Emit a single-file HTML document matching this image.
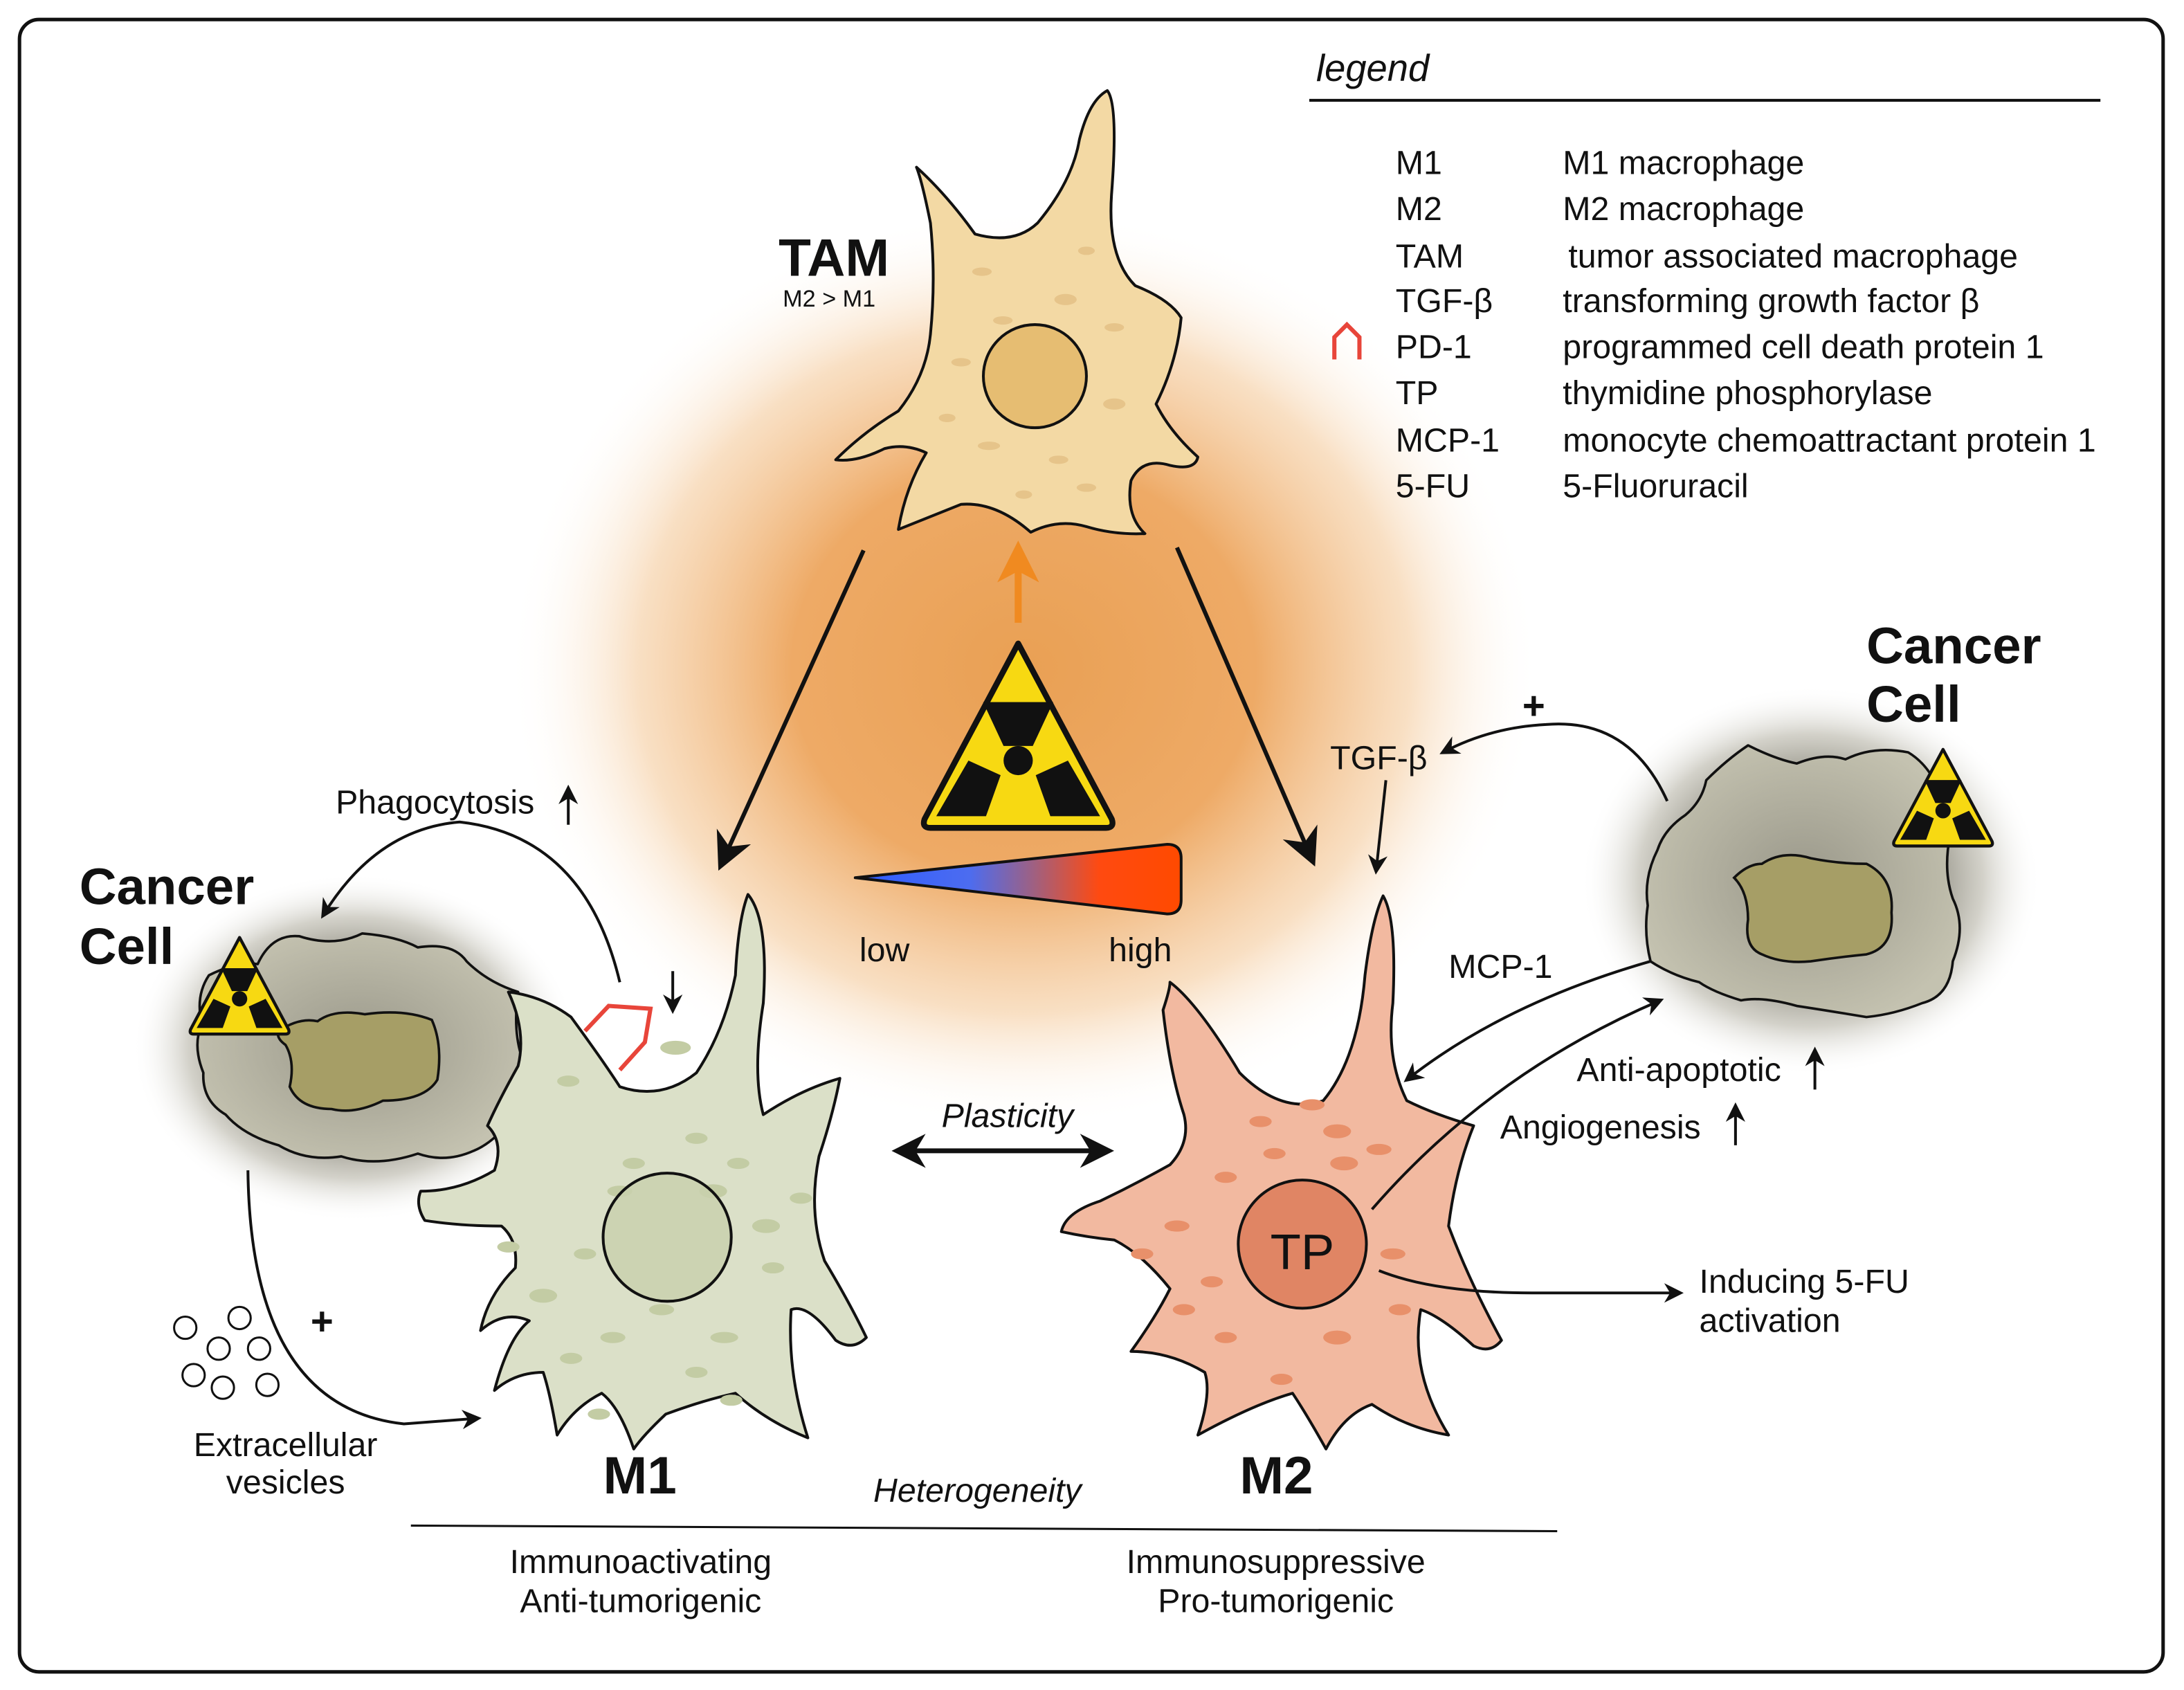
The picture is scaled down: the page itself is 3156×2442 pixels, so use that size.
<!DOCTYPE html>
<html><head><meta charset="utf-8"><style>
html,body{margin:0;padding:0;background:#fff}
svg{display:block}
text{font-family:"Liberation Sans",sans-serif;fill:#111}
</style></head><body>
<svg width="3156" height="2442" viewBox="0 0 1568 1213" preserveAspectRatio="none" xmlns="http://www.w3.org/2000/svg">
<defs>
<radialGradient id="glow" cx="0.5" cy="0.5" r="0.5">
<stop offset="0" stop-color="#e9a054"/><stop offset="0.45" stop-color="#eeaa66"/><stop offset="0.75" stop-color="#f6d2aa" stop-opacity="0.7"/><stop offset="1" stop-color="#fff" stop-opacity="0"/>
</radialGradient>
<radialGradient id="cshade" cx="0.5" cy="0.5" r="0.5">
<stop offset="0" stop-color="#6e6c62"/><stop offset="0.5" stop-color="#8e8c80"/><stop offset="0.75" stop-color="#c8c6bc" stop-opacity="0.8"/><stop offset="1" stop-color="#fff" stop-opacity="0"/>
</radialGradient>
<radialGradient id="cfill" cx="0.5" cy="0.5" r="0.55">
<stop offset="0" stop-color="#9a988a"/><stop offset="1" stop-color="#c4c2b0"/>
</radialGradient>
<linearGradient id="wedge" x1="0" x2="1" y1="0" y2="0">
<stop offset="0" stop-color="#2e5bff"/><stop offset="0.35" stop-color="#4c6cf0"/><stop offset="0.55" stop-color="#a06080"/><stop offset="0.75" stop-color="#ff4a10"/><stop offset="1" stop-color="#ff4a00"/>
</linearGradient>
<marker id="ah" viewBox="0 0 10 10" refX="8" refY="5" markerWidth="7" markerHeight="7" orient="auto-start-reverse"><path d="M0,0 L10,5 L0,10 L3,5 z" fill="#111"/></marker>
<marker id="ahs" viewBox="0 0 10 10" refX="8" refY="5" markerWidth="9" markerHeight="9" orient="auto-start-reverse"><path d="M0,0 L10,5 L0,10 L3,5 z" fill="#111"/></marker>
<g id="rad">
<path d="M0,-62 L64,58 Q66,64 60,64 L-60,64 Q-66,64 -64,58 Z" fill="#f7d912" stroke="#111" stroke-width="4" stroke-linejoin="round"/>
<circle cx="0" cy="18" r="10" fill="#111"/>
<path d="M-24,-22 L24,-22 L10,8 L-10,8 Z" fill="#111"/>
<path d="M-56,56 L-34,18 L-12,28 L-22,56 Z" fill="#111"/>
<path d="M56,56 L34,18 L12,28 L22,56 Z" fill="#111"/>
</g>
</defs>

<rect x="14" y="14" width="1539" height="1186" rx="14" fill="#fff" stroke="#111" stroke-width="2.5"/>

<ellipse cx="735" cy="480" rx="370" ry="330" fill="url(#glow)"/>

<!-- legend -->
<text x="945" y="58" font-size="27" font-style="italic">legend</text>
<line x1="940" y1="72" x2="1508" y2="72" stroke="#111" stroke-width="2"/>
<g font-size="24">
<text x="1002" y="125">M1</text><text x="1122" y="125">M1 macrophage</text>
<text x="1002" y="158">M2</text><text x="1122" y="158">M2 macrophage</text>
<text x="1002" y="192">TAM</text><text x="1126" y="192">tumor associated macrophage</text>
<text x="1002" y="224">TGF-β</text><text x="1122" y="224">transforming growth factor β</text>
<text x="1002" y="257">PD-1</text><text x="1122" y="257">programmed cell death protein 1</text>
<text x="1002" y="290">TP</text><text x="1122" y="290">thymidine phosphorylase</text>
<text x="1002" y="324">MCP-1</text><text x="1122" y="324">monocyte chemoattractant protein 1</text>
<text x="1002" y="357">5-FU</text><text x="1122" y="357">5-Fluoruracil</text>
</g>
<path d="M958,258 L958,242 L967,233 L976,242 L976,258" fill="none" stroke="#e8453a" stroke-width="3"/>

<!-- TAM cell -->
<path d="M795,65 Q803,75 798,140 Q795,185 815,205 Q840,215 848,228 Q845,260 830,290 Q840,310 860,328 Q858,338 840,334 Q820,328 812,345 Q808,370 822,383 Q800,384 780,378 Q760,372 740,382 Q715,360 690,362 Q665,372 645,380 Q650,350 665,325 Q650,318 635,322 Q615,332 600,330 Q620,310 645,295 Q665,270 668,240 Q672,200 668,160 Q662,130 658,120 Q680,140 700,168 Q728,176 745,160 Q770,130 775,100 Q782,72 795,65 Z" fill="#f3d9a4" stroke="#111" stroke-width="2" stroke-linejoin="round"/>
<g fill="#e6c48a"><ellipse cx="705" cy="195" rx="7" ry="3"/><ellipse cx="765" cy="215" rx="8" ry="4"/><ellipse cx="800" cy="235" rx="7" ry="3"/><ellipse cx="690" cy="260" rx="7" ry="3"/><ellipse cx="800" cy="290" rx="8" ry="4"/><ellipse cx="710" cy="320" rx="8" ry="3"/><ellipse cx="760" cy="330" rx="7" ry="3"/><ellipse cx="680" cy="300" rx="6" ry="3"/><ellipse cx="735" cy="355" rx="6" ry="3"/><ellipse cx="780" cy="180" rx="6" ry="3"/><ellipse cx="720" cy="230" rx="7" ry="3"/><ellipse cx="780" cy="350" rx="7" ry="3"/></g>
<circle cx="743" cy="270" r="37" fill="#e6bd72" stroke="#111" stroke-width="2"/>
<text x="559" y="198" font-size="38" font-weight="bold">TAM</text>
<text x="562" y="220" font-size="17">M2 &gt; M1</text>

<!-- main arrows -->
<line x1="620" y1="395" x2="518" y2="620" stroke="#111" stroke-width="3" marker-end="url(#ahs)"/>
<line x1="845" y1="393" x2="942" y2="617" stroke="#111" stroke-width="3" marker-end="url(#ahs)"/>
<line x1="731" y1="447" x2="731" y2="405" stroke="#f08a20" stroke-width="5"/>
<path d="M716,418 L731,388 L746,418 L731,410 Z" fill="#f08a20"/>

<use href="#rad" transform="translate(731,527) scale(1.05)"/>

<path d="M614,630 L838,606 Q848,606 848,616 L848,646 Q848,656 838,656 Z" fill="url(#wedge)" stroke="#111" stroke-width="2" stroke-linejoin="round"/>
<text x="617" y="690" font-size="24">low</text>
<text x="796" y="690" font-size="24">high</text>

<!-- left cancer cell -->
<ellipse cx="255" cy="752" rx="160" ry="125" fill="url(#cshade)"/>
<path d="M150,700 Q170,690 185,692 Q195,670 215,672 Q240,680 260,670 Q285,672 300,680 Q325,676 335,690 Q350,705 372,712 Q368,740 375,760 Q365,785 370,800 Q355,820 340,826 Q320,835 300,828 Q270,838 245,830 Q220,834 200,822 Q175,815 162,800 Q145,790 146,770 Q138,750 145,735 Q140,715 150,700 Z" fill="url(#cfill)" stroke="#111" stroke-width="1.8" stroke-linejoin="round"/>
<path d="M200,740 Q215,730 228,733 Q240,724 262,728 Q290,724 310,732 Q318,750 314,775 Q305,790 275,790 Q255,800 238,796 Q215,796 208,780 Q212,762 205,750 Q198,745 200,740 Z" fill="#a69e66" stroke="#111" stroke-width="1.8"/>
<use href="#rad" transform="translate(172,707) scale(0.55)"/>
<text x="57" y="649" font-size="37" font-weight="bold">Cancer</text>
<text x="57" y="692" font-size="37" font-weight="bold">Cell</text>

<!-- right cancer cell -->
<ellipse cx="1300" cy="632" rx="165" ry="140" fill="url(#cshade)"/>
<path d="M1210,585 Q1222,575 1225,560 Q1240,545 1255,535 Q1275,545 1290,548 Q1310,540 1325,545 Q1345,535 1370,540 Q1395,555 1400,600 Q1395,625 1402,645 Q1412,665 1402,690 Q1400,715 1380,720 Q1360,728 1340,730 Q1310,725 1290,722 Q1265,715 1250,718 Q1230,712 1220,705 Q1200,700 1185,690 Q1180,670 1183,650 Q1180,630 1190,610 Q1195,595 1210,585 Z" fill="url(#cfill)" stroke="#111" stroke-width="1.8" stroke-linejoin="round"/>
<path d="M1245,630 Q1255,620 1265,620 Q1280,610 1300,616 Q1320,620 1340,620 Q1360,630 1358,655 Q1360,680 1340,685 Q1320,687 1300,690 Q1280,692 1265,685 Q1252,680 1255,660 Q1255,640 1245,630 Z" fill="#a69e66" stroke="#111" stroke-width="1.8"/>
<use href="#rad" transform="translate(1395,572) scale(0.55)"/>
<text x="1340" y="476" font-size="37" font-weight="bold">Cancer</text>
<text x="1340" y="518" font-size="37" font-weight="bold">Cell</text>

<!-- M1 cell -->
<path d="M537,642 Q552,660 548,720 Q540,770 548,800 Q575,782 603,774 Q598,800 588,830 Q580,870 592,905 Q610,935 622,960 Q612,970 600,962 Q580,935 568,940 Q565,985 580,1032 Q550,1020 528,1000 Q505,1005 478,1015 Q462,1030 455,1040 Q445,1010 432,1000 Q412,1010 400,1030 Q395,1000 390,985 Q370,985 355,998 Q365,960 380,948 Q362,940 345,955 Q350,930 370,910 Q372,890 360,880 Q330,880 305,876 Q298,865 302,855 Q330,855 355,840 Q362,820 350,808 Q358,790 372,765 Q378,740 365,712 Q390,715 410,730 Q432,760 445,780 Q475,790 500,770 Q520,740 528,700 Q530,660 537,642 Z" fill="#dbe0c8" stroke="#111" stroke-width="2" stroke-linejoin="round"/>
<g fill="#c3cca4"><ellipse cx="485" cy="752" rx="11" ry="5"/><ellipse cx="408" cy="776" rx="8" ry="4"/><ellipse cx="500" cy="817" rx="8" ry="4"/><ellipse cx="445" cy="855" rx="9" ry="4"/><ellipse cx="512" cy="855" rx="10" ry="5"/><ellipse cx="550" cy="880" rx="10" ry="5"/><ellipse cx="390" cy="930" rx="10" ry="5"/><ellipse cx="440" cy="960" rx="9" ry="4"/><ellipse cx="520" cy="960" rx="10" ry="4"/><ellipse cx="475" cy="940" rx="9" ry="4"/><ellipse cx="575" cy="860" rx="8" ry="4"/><ellipse cx="555" cy="910" rx="8" ry="4"/><ellipse cx="430" cy="1015" rx="8" ry="4"/><ellipse cx="525" cy="1005" rx="8" ry="4"/><ellipse cx="365" cy="895" rx="8" ry="4"/><ellipse cx="455" cy="835" rx="8" ry="4"/><ellipse cx="530" cy="835" rx="8" ry="4"/><ellipse cx="420" cy="900" rx="8" ry="4"/><ellipse cx="410" cy="975" rx="8" ry="4"/><ellipse cx="500" cy="985" rx="8" ry="4"/></g>
<circle cx="479" cy="888" r="46" fill="#c9d0ae" fill-opacity="0.85" stroke="#111" stroke-width="2"/>
<path d="M420,740 L437,722 L467,724 L463,748 L445,768" fill="none" stroke="#e8453a" stroke-width="3"/>
<text x="433" y="1072" font-size="38" font-weight="bold">M1</text>

<!-- M2 cell -->
<path d="M993,643 Q1003,660 1000,720 Q995,760 1010,790 Q1030,800 1058,808 Q1045,840 1040,880 Q1055,920 1078,962 Q1070,972 1058,966 Q1035,945 1020,940 Q1012,985 1040,1030 Q1010,1025 985,1008 Q965,1015 952,1040 Q938,1015 928,1000 Q900,1008 860,1030 Q870,1000 865,985 Q840,970 812,970 Q830,945 840,925 Q820,900 800,890 Q780,888 762,884 Q765,870 790,862 Q815,850 840,836 Q855,820 850,800 Q840,770 835,725 Q840,710 840,705 Q860,720 890,770 Q920,800 950,790 Q975,760 980,700 Q985,660 993,643 Z" fill="#f2b9a0" stroke="#111" stroke-width="2" stroke-linejoin="round"/>
<g fill="#e8906a"><ellipse cx="942" cy="793" rx="9" ry="4"/><ellipse cx="960" cy="812" rx="10" ry="5"/><ellipse cx="915" cy="828" rx="8" ry="4"/><ellipse cx="990" cy="825" rx="9" ry="4"/><ellipse cx="880" cy="845" rx="8" ry="4"/><ellipse cx="965" cy="835" rx="10" ry="5"/><ellipse cx="845" cy="880" rx="9" ry="4"/><ellipse cx="870" cy="920" rx="8" ry="4"/><ellipse cx="1000" cy="900" rx="9" ry="4"/><ellipse cx="880" cy="960" rx="8" ry="4"/><ellipse cx="920" cy="990" rx="8" ry="4"/><ellipse cx="960" cy="960" rx="10" ry="5"/><ellipse cx="1005" cy="940" rx="8" ry="4"/><ellipse cx="820" cy="900" rx="8" ry="4"/><ellipse cx="905" cy="805" rx="8" ry="4"/><ellipse cx="850" cy="940" rx="8" ry="4"/></g>
<circle cx="935" cy="893" r="46" fill="#e08564" stroke="#111" stroke-width="2"/>
<text x="935" y="911" font-size="36" text-anchor="middle">TP</text>
<text x="890" y="1072" font-size="38" font-weight="bold">M2</text>

<line x1="645" y1="826" x2="795" y2="826" stroke="#111" stroke-width="3.5" marker-start="url(#ah)" marker-end="url(#ah)"/>
<text x="676" y="809" font-size="24" font-style="italic">Plasticity</text>

<path d="M445,705 Q420,600 330,590 Q270,595 232,657" fill="none" stroke="#111" stroke-width="2" marker-end="url(#ah)"/>
<text x="241" y="584" font-size="24">Phagocytosis</text>
<line x1="408" y1="592" x2="408" y2="566" stroke="#111" stroke-width="2" marker-end="url(#ah)"/>
<line x1="483" y1="697" x2="483" y2="725" stroke="#111" stroke-width="2" marker-end="url(#ah)"/>

<path d="M178,840 Q180,1010 290,1022 L343,1018" fill="none" stroke="#111" stroke-width="2" marker-end="url(#ah)"/>
<text x="223" y="958" font-size="28" font-weight="bold">+</text>
<g fill="none" stroke="#111" stroke-width="1.5"><circle cx="133" cy="953" r="8"/><circle cx="172" cy="946" r="8"/><circle cx="157" cy="968" r="8"/><circle cx="186" cy="968" r="8"/><circle cx="139" cy="987" r="8"/><circle cx="160" cy="996" r="8"/><circle cx="192" cy="994" r="8"/></g>
<text x="205" y="1045" font-size="24" text-anchor="middle">Extracellular</text>
<text x="205" y="1072" font-size="24" text-anchor="middle">vesicles</text>

<path d="M1197,575 Q1170,515 1110,520 Q1070,522 1036,540" fill="none" stroke="#111" stroke-width="2" marker-end="url(#ah)"/>
<text x="1093" y="516" font-size="28" font-weight="bold">+</text>
<text x="955" y="552" font-size="24">TGF-β</text>
<line x1="995" y1="560" x2="988" y2="625" stroke="#111" stroke-width="2" marker-end="url(#ah)"/>
<text x="1040" y="702" font-size="24">MCP-1</text>
<path d="M1185,690 Q1080,720 1010,775" fill="none" stroke="#111" stroke-width="2" marker-end="url(#ah)"/>
<path d="M985,868 Q1070,770 1192,718" fill="none" stroke="#111" stroke-width="2" marker-end="url(#ah)"/>
<text x="1132" y="776" font-size="24">Anti-apoptotic</text>
<line x1="1303" y1="782" x2="1303" y2="754" stroke="#111" stroke-width="2" marker-end="url(#ah)"/>
<text x="1077" y="817" font-size="24">Angiogenesis</text>
<line x1="1246" y1="822" x2="1246" y2="794" stroke="#111" stroke-width="2" marker-end="url(#ah)"/>
<path d="M990,912 Q1030,928 1100,928 L1206,928" fill="none" stroke="#111" stroke-width="2" marker-end="url(#ah)"/>
<text x="1220" y="928" font-size="24">Inducing 5-FU</text>
<text x="1220" y="956" font-size="24">activation</text>

<text x="627" y="1078" font-size="24" font-style="italic">Heterogeneity</text>
<line x1="295" y1="1095" x2="1118" y2="1099" stroke="#111" stroke-width="1.5"/>
<text x="460" y="1129" font-size="24" text-anchor="middle">Immunoactivating</text>
<text x="460" y="1157" font-size="24" text-anchor="middle">Anti-tumorigenic</text>
<text x="916" y="1129" font-size="24" text-anchor="middle">Immunosuppressive</text>
<text x="916" y="1157" font-size="24" text-anchor="middle">Pro-tumorigenic</text>
</svg>
</body></html>
